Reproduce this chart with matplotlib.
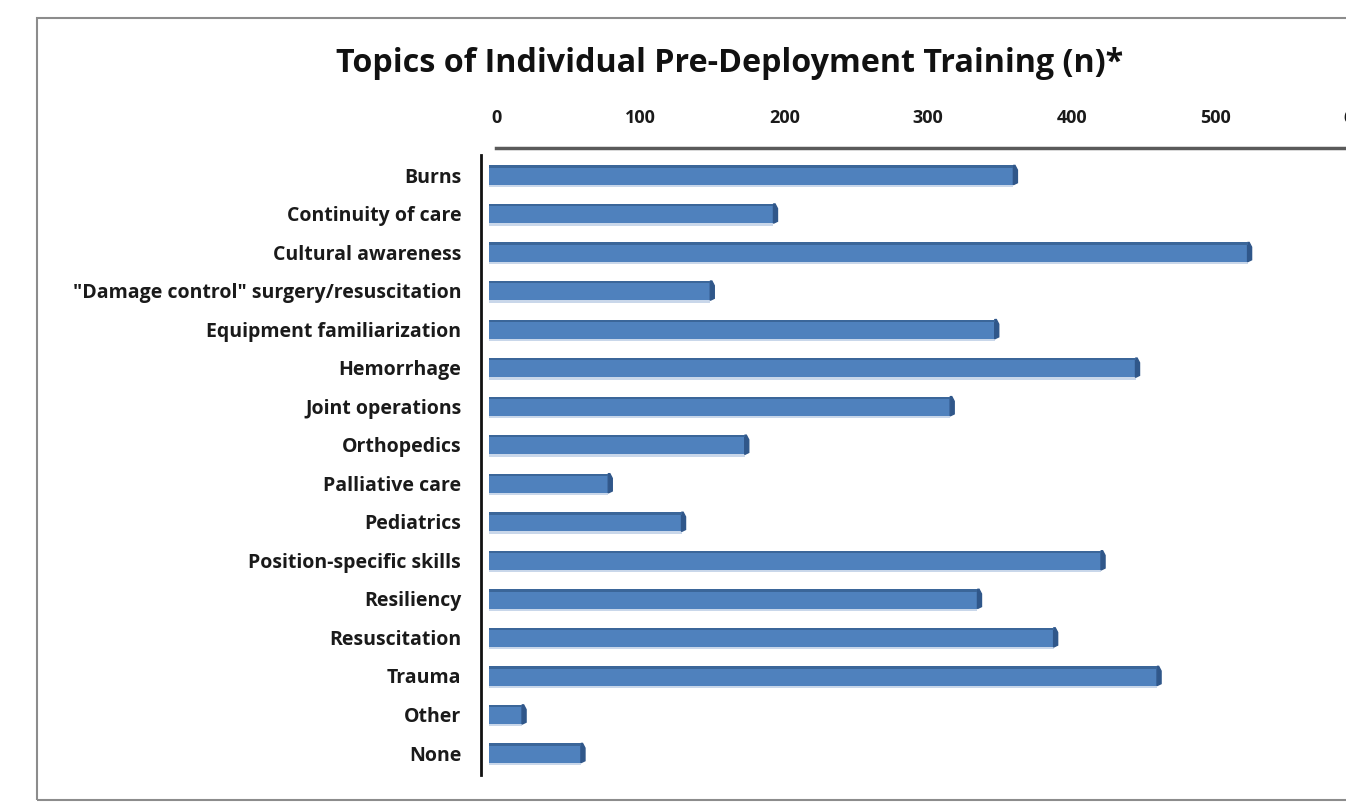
import numpy as np
import matplotlib
matplotlib.use("Agg")
import matplotlib.pyplot as plt
from matplotlib.patches import Rectangle, Polygon
from matplotlib.transforms import ScaledTranslation

# ---- data ----
topics = [
    "Burns",
    "Continuity of care",
    "Cultural awareness",
    '"Damage control" surgery/resuscitation',
    "Equipment familiarization",
    "Hemorrhage",
    "Joint operations",
    "Orthopedics",
    "Palliative care",
    "Pediatrics",
    "Position-specific skills",
    "Resiliency",
    "Resuscitation",
    "Trauma",
    "Other",
    "None",
]
counts = [365, 198, 528, 154, 352, 450, 321, 178, 83, 134, 426, 340, 393, 465, 23, 64]
x_ticks = [0, 100, 200, 300, 400, 500, 600]
title = "Topics of Individual Pre-Deployment Training (n)*"

FONT = "Open Sans"
W, H = 1346, 802
fig = plt.figure(figsize=(W / 100, H / 100), dpi=100)

# chart frame (right side runs off the picture)
fig.patches.append(Rectangle((37 / W, 2 / H), 1.2, 782 / H, transform=fig.transFigure,
                             fill=False, edgecolor="#8c8c8c", lw=1.5))

ax = fig.add_axes([489 / W, 1 - 775 / H, 862 / W, 620 / H])

# spines first: set_position resets the ticks
for s in ["right", "bottom"]:
    ax.spines[s].set_visible(False)
ax.spines["top"].set_position(("outward", 5))
ax.spines["top"].set_color("#5a5a5a")
ax.spines["top"].set_linewidth(2.5)
ax.spines["left"].set_position(("outward", 6))
ax.spines["left"].set_color("#111111")
ax.spines["left"].set_linewidth(2)

ax.set_xlim(0, 600)
ax.set_ylim(len(topics) - 0.43, -0.52)
ax.spines["top"].set_bounds(5, 600)

ypos = np.arange(len(topics))
bh = 0.5
front = "#4f81bd"
ax.barh(ypos, counts, height=bh, color=front, edgecolor="none", zorder=3)
# top edge (darker) and soft shadow under each bar
ax.barh(ypos - bh / 2 + 0.03, counts, height=0.06, color="#3b6699", edgecolor="none", zorder=4)
ax.barh(ypos + bh / 2 + 0.03, counts, height=0.06, color="#c9d7ea", edgecolor="none", zorder=2)
# right side face
for y, v in zip(ypos, counts):
    dx = 2.8
    pts = [(v, y - bh / 2), (v + dx * 0.4, y - bh / 2), (v + dx, y - bh / 2 + 0.12),
           (v + dx, y + bh / 2 - 0.05), (v, y + bh / 2)]
    ax.add_patch(Polygon(pts, closed=True, color="#30578a", zorder=3))

ax.xaxis.tick_top()
ax.tick_params(axis="x", length=0, pad=15)
ax.tick_params(axis="y", length=0, pad=14)

ax.set_xticks(x_ticks)
ax.set_xticklabels([str(t) for t in x_ticks], family=FONT, fontweight="bold",
                   fontsize=13, color="#1a1a1a")
ax.set_yticks(ypos)
ax.set_yticklabels(topics, family=FONT, fontweight="bold", fontsize=14, color="#1a1a1a")
shift = ScaledTranslation(8 / 100, 0, fig.dpi_scale_trans)
for tick in ax.xaxis.get_major_ticks():
    tick.label2.set_transform(tick.label2.get_transform() + shift)

fig.text(730 / W, 1 - 64 / H, title, ha="center", va="center", fontsize=23.2,
         fontweight="bold", family=FONT, color="#111111")

fig.savefig("out.png", dpi=100)
